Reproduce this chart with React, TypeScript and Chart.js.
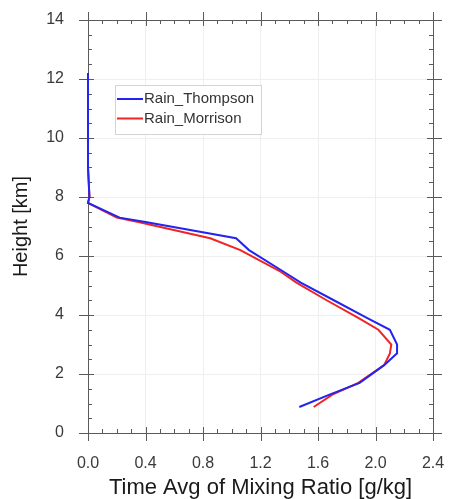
import React, { useEffect, useRef } from "react";
import { Chart, registerables } from "chart.js";

Chart.register(...registerables);

const heights = [0.88, 1.3, 1.7, 2.3, 2.7, 3.0, 3.5, 3.9, 4.5, 5.1, 5.5, 6.2, 6.6, 7.15, 7.3, 7.8, 8.0, 9.0, 10.0, 11.0, 12.2];
const thompson = [1.47, 1.68, 1.89, 2.06, 2.15, 2.15, 2.1, 1.94, 1.71, 1.48, 1.35, 1.12, 1.03, 0.4, 0.22, 0.0, 0.01, 0.0, 0.0, 0.0, 0.0];
const morrison = [1.57, 1.7, 1.88, 2.06, 2.1, 2.11, 2.02, 1.88, 1.66, 1.45, 1.33, 1.06, 0.85, 0.35, 0.2, 0.0, 0.01, 0.0, 0.0, 0.0, 0.0];
const seriesNames = ["Rain_Thompson", "Rain_Morrison"];
const seriesColors = ["#2424f0", "#f02424"];
const xTicks = [0, 0.4, 0.8, 1.2, 1.6, 2.0, 2.4];
const yTicks = [0, 2, 4, 6, 8, 10, 12, 14];
const xTitle = "Time Avg of Mixing Ratio [g/kg]";
const yTitle = "Height [km]";

const FONT = "'Liberation Sans', Arial, Helvetica, sans-serif";

const framePlugin = {
  id: "frame",
  beforeDatasetsDraw(chart: any) {
    const { ctx, chartArea, scales } = chart;
    const { left, right, top, bottom } = chartArea;
    const xs = scales.x;
    const ys = scales.y;
    ctx.save();
    ctx.strokeStyle = "#5a5a5a";
    ctx.lineWidth = 1;
    ctx.strokeRect(Math.round(left) + 0.5, Math.round(top) + 0.5, Math.round(right - left), Math.round(bottom - top));
    ctx.beginPath();
    const xMin = xTicks[0], xMax = xTicks[xTicks.length - 1];
    const yMin = yTicks[0], yMax = yTicks[yTicks.length - 1];
    for (let i = 0; i <= Math.round((xMax - xMin) / 0.1); i++) {
      const v = xMin + i * 0.1;
      const px = Math.round(xs.getPixelForValue(v)) + 0.5;
      const major = i % 4 === 0;
      const inL = major ? 6 : 4;
      const outL = major ? 8 : 0;
      ctx.moveTo(px, bottom + outL);
      ctx.lineTo(px, bottom - inL);
      ctx.moveTo(px, top - outL);
      ctx.lineTo(px, top + inL);
    }
    for (let i = 0; i <= Math.round((yMax - yMin) / 0.5); i++) {
      const v = yMin + i * 0.5;
      const py = Math.round(ys.getPixelForValue(v)) + 0.5;
      const major = i % 4 === 0;
      const inL = major ? 6 : 4;
      const outL = major ? 9 : 0;
      ctx.moveTo(left - outL, py);
      ctx.lineTo(left + inL, py);
      ctx.moveTo(right + outL, py);
      ctx.lineTo(right - inL, py);
    }
    ctx.stroke();
    ctx.restore();
  },
  afterDatasetsDraw(chart: any) {
    const { ctx, chartArea } = chart;
    const { left, top } = chartArea;
    ctx.save();
    const lx = Math.round(left) + 27;
    const ly = Math.round(top) + 65;
    const w = 146;
    const h = 49;
    ctx.fillStyle = "#ffffff";
    ctx.fillRect(lx, ly, w, h);
    ctx.strokeStyle = "#d4d4d4";
    ctx.lineWidth = 1;
    ctx.strokeRect(lx + 0.5, ly + 0.5, w, h);
    ctx.font = `15px ${FONT}`;
    ctx.textBaseline = "middle";
    ctx.textAlign = "left";
    seriesNames.forEach((name, i) => {
      const yy = ly + 14 + i * 19.5;
      ctx.strokeStyle = seriesColors[i];
      ctx.lineWidth = 2;
      ctx.beginPath();
      ctx.moveTo(lx + 2, yy);
      ctx.lineTo(lx + 28, yy);
      ctx.stroke();
      ctx.fillStyle = "#333333";
      ctx.fillText(name, lx + 29, yy);
    });
    ctx.restore();
  },
};

export default function App() {
  const ref = useRef<HTMLCanvasElement | null>(null);
  useEffect(() => {
    document.body.style.margin = "0";
    if (!ref.current) return;
    const mk = (vals: number[]) => vals.map((v, i) => ({ x: v, y: heights[i] }));
    const chart = new Chart(ref.current, {
      type: "scatter",
      data: {
        datasets: [
          {
            label: seriesNames[0],
            data: mk(thompson),
            showLine: true,
            borderColor: seriesColors[0],
            backgroundColor: seriesColors[0],
            borderWidth: 2,
            pointRadius: 0,
            tension: 0,
            clip: false,
          },
          {
            label: seriesNames[1],
            data: mk(morrison),
            showLine: true,
            borderColor: seriesColors[1],
            backgroundColor: seriesColors[1],
            borderWidth: 2,
            pointRadius: 0,
            tension: 0,
            clip: false,
          },
        ],
      },
      options: {
        animation: false,
        responsive: true,
        maintainAspectRatio: false,
        layout: { padding: { top: 20, right: 18, left: 0, bottom: 0 } },
        plugins: { legend: { display: false }, tooltip: { enabled: false } },
        scales: {
          x: {
            type: "linear",
            min: xTicks[0],
            max: xTicks[xTicks.length - 1],
            afterBuildTicks: (s: any) => {
              s.ticks = xTicks.map((v) => ({ value: v }));
            },
            afterFit: (s: any) => {
              s.height = 66;
              s.paddingLeft = 0;
              s.paddingRight = 0;
            },
            ticks: {
              callback: (v: any) => Number(v).toFixed(1),
              font: { family: FONT, size: 16 },
              color: "#3a3a3a",
              padding: 21,
              maxRotation: 0,
            },
            grid: { color: "#efefef", drawTicks: false, lineWidth: 1 },
            border: { display: false },
            title: {
              display: true,
              text: xTitle,
              font: { family: FONT, size: 22, lineHeight: 1 },
              color: "#1a1a1a",
              padding: { top: 0, bottom: 0 },
            },
          },
          y: {
            type: "linear",
            min: yTicks[0],
            max: yTicks[yTicks.length - 1],
            afterBuildTicks: (s: any) => {
              s.ticks = yTicks.map((v) => ({ value: v }));
            },
            afterFit: (s: any) => {
              s.width = 88;
              s.paddingTop = 0;
              s.paddingBottom = 0;
            },
            ticks: {
              callback: (v: any) => String(v),
              font: { family: FONT, size: 16 },
              color: "#3a3a3a",
              padding: 24,
            },
            grid: { color: "#efefef", drawTicks: false, lineWidth: 1 },
            border: { display: false },
            title: {
              display: true,
              text: yTitle,
              font: { family: FONT, size: 20 },
              color: "#1a1a1a",
              padding: { top: 9, bottom: 0 },
            },
          },
        },
      },
      plugins: [framePlugin],
    });
    return () => chart.destroy();
  }, []);
  return (
    <div style={{ position: "absolute", left: 0, top: 0, width: 451, height: 499, background: "#fff" }}>
      <canvas ref={ref} />
    </div>
  );
}
